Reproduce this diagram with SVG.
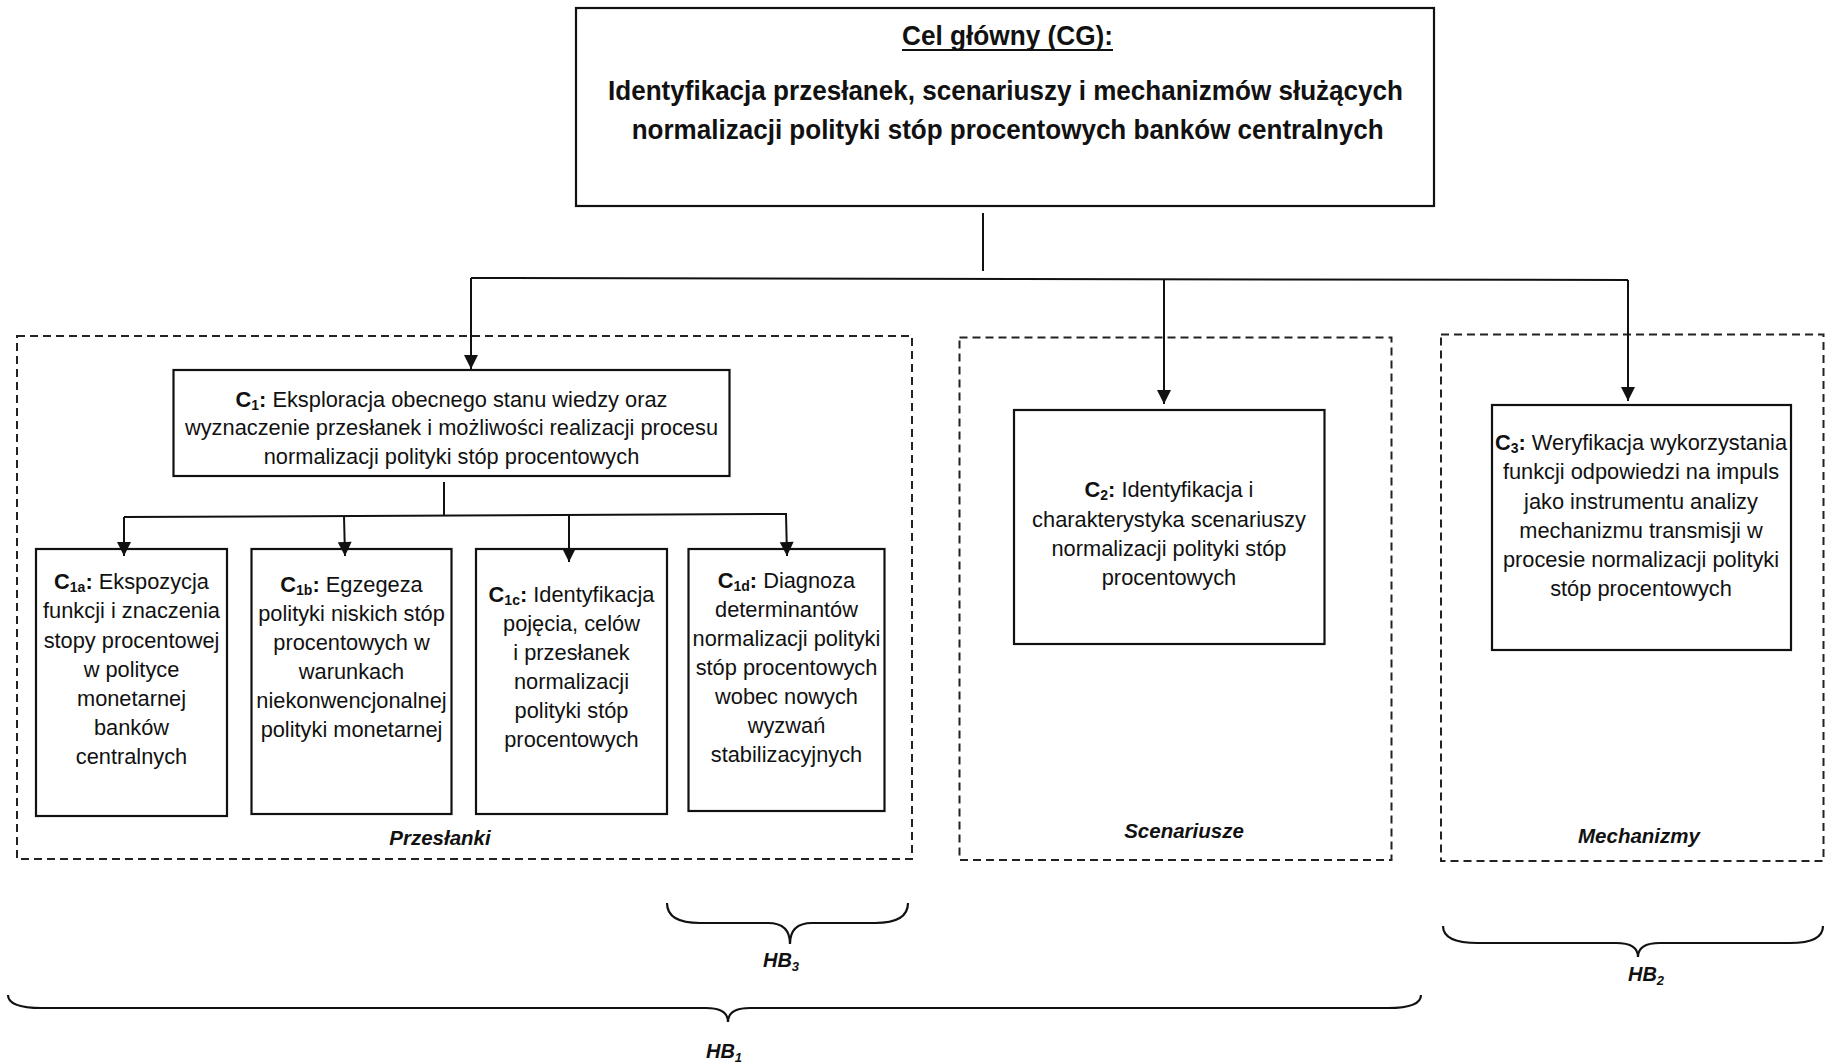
<svg xmlns="http://www.w3.org/2000/svg" width="1825" height="1063" viewBox="0 0 1825 1063">
<style>
  text { font-family: "Liberation Sans", Arial, sans-serif; fill: #111; }
  .t { font-size: 21.8px; text-anchor: middle; }
  .b { font-weight: bold; }
  .s { font-size: 14px; font-weight: bold; }
  .title { font-size: 28px; font-weight: bold; text-anchor: middle; }
  .lbl { font-size: 20.5px; font-weight: bold; font-style: italic; text-anchor: middle; }
  .hb { font-size: 20px; font-weight: bold; font-style: italic; text-anchor: middle; }
  .hbs { font-size: 13px; }
  .box { fill: #fff; stroke: #111; stroke-width: 2.2; }
  .dash { fill: none; stroke: #222; stroke-width: 2; stroke-dasharray: 8 5; }
  .ln { fill: none; stroke: #111; stroke-width: 2; }
  .br { fill: none; stroke: #111; stroke-width: 2.2; }
</style>
<defs>
  <marker id="ah" viewBox="0 0 10 10" refX="10" refY="5" markerWidth="16" markerHeight="14" markerUnits="userSpaceOnUse" orient="auto">
    <path d="M0,0 L10,5 L0,10 z" fill="#111"/>
  </marker>
</defs>
<rect width="1825" height="1063" fill="#fff"/>

<!-- group frames -->
<g id="grp-przeslanki">
  <rect class="dash" x="17" y="336" width="895" height="523"/>
  <text class="lbl" x="440" y="845">Przesłanki</text>
</g>
<g id="grp-scenariusze">
  <rect class="dash" x="959.5" y="337.5" width="432" height="522.5"/>
  <text class="lbl" x="1184" y="838">Scenariusze</text>
</g>
<g id="grp-mechanizmy">
  <rect class="dash" x="1441" y="334.5" width="382.5" height="526.5"/>
  <text class="lbl" x="1639" y="843">Mechanizmy</text>
</g>

<!-- main goal -->
<g id="cg">
  <rect class="box" x="576" y="8" width="858" height="198"/>
  <text class="title" x="1007.5" y="45" textLength="211" lengthAdjust="spacingAndGlyphs">Cel główny (CG):</text>
  <line x1="902" y1="50" x2="1113" y2="50" stroke="#111" stroke-width="2"/>
  <text class="title" x="1005.5" y="100" textLength="795" lengthAdjust="spacingAndGlyphs">Identyfikacja przesłanek, scenariuszy i mechanizmów służących</text>
  <text class="title" x="1007.7" y="139" textLength="752" lengthAdjust="spacingAndGlyphs">normalizacji polityki stóp procentowych banków centralnych</text>
</g>

<g id="c1">
  <rect class="box" x="173.5" y="370" width="556" height="106"/>
  <text class="t" x="451.5" y="406.5"><tspan class="b">C<tspan class="s" dy="3">1</tspan><tspan dy="-3">:</tspan></tspan> Eksploracja obecnego stanu wiedzy oraz</text>
  <text class="t" x="451.5" y="435">wyznaczenie przesłanek i możliwości realizacji procesu</text>
  <text class="t" x="451.5" y="463.5">normalizacji polityki stóp procentowych</text>
</g>

<g id="c1a">
  <rect class="box" x="36" y="549" width="191" height="267"/>
  <text class="t" x="131.5" y="589"><tspan class="b">C<tspan class="s" dy="3">1a</tspan><tspan dy="-3">:</tspan></tspan> Ekspozycja</text>
  <text class="t" x="131.5" y="618">funkcji i znaczenia</text>
  <text class="t" x="131.5" y="647.5">stopy procentowej</text>
  <text class="t" x="131.5" y="676.5">w polityce</text>
  <text class="t" x="131.5" y="706">monetarnej</text>
  <text class="t" x="131.5" y="735">banków</text>
  <text class="t" x="131.5" y="764">centralnych</text>
</g>

<g id="c1b">
  <rect class="box" x="251.5" y="549" width="200" height="265"/>
  <text class="t" x="351.5" y="592"><tspan class="b">C<tspan class="s" dy="3">1b</tspan><tspan dy="-3">:</tspan></tspan> Egzegeza</text>
  <text class="t" x="351.5" y="621">polityki niskich stóp</text>
  <text class="t" x="351.5" y="650">procentowych w</text>
  <text class="t" x="351.5" y="679">warunkach</text>
  <text class="t" x="351.5" y="708">niekonwencjonalnej</text>
  <text class="t" x="351.5" y="737">polityki monetarnej</text>
</g>

<g id="c1c">
  <rect class="box" x="476" y="549" width="191" height="265"/>
  <text class="t" x="571.5" y="602"><tspan class="b">C<tspan class="s" dy="3">1c</tspan><tspan dy="-3">:</tspan></tspan> Identyfikacja</text>
  <text class="t" x="571.5" y="631">pojęcia, celów</text>
  <text class="t" x="571.5" y="660">i przesłanek</text>
  <text class="t" x="571.5" y="689">normalizacji</text>
  <text class="t" x="571.5" y="718">polityki stóp</text>
  <text class="t" x="571.5" y="747">procentowych</text>
</g>

<g id="c1d">
  <rect class="box" x="688.5" y="549" width="196" height="262"/>
  <text class="t" x="786.5" y="588"><tspan class="b">C<tspan class="s" dy="3">1d</tspan><tspan dy="-3">:</tspan></tspan> Diagnoza</text>
  <text class="t" x="786.5" y="617">determinantów</text>
  <text class="t" x="786.5" y="646">normalizacji polityki</text>
  <text class="t" x="786.5" y="675">stóp procentowych</text>
  <text class="t" x="786.5" y="704">wobec nowych</text>
  <text class="t" x="786.5" y="733">wyzwań</text>
  <text class="t" x="786.5" y="762">stabilizacyjnych</text>
</g>

<g id="c2">
  <rect class="box" x="1014" y="410" width="310.5" height="234"/>
  <text class="t" x="1169" y="497"><tspan class="b">C<tspan class="s" dy="3">2</tspan><tspan dy="-3">:</tspan></tspan> Identyfikacja i</text>
  <text class="t" x="1169" y="526.5">charakterystyka scenariuszy</text>
  <text class="t" x="1169" y="556">normalizacji polityki stóp</text>
  <text class="t" x="1169" y="585">procentowych</text>
</g>

<g id="c3">
  <rect class="box" x="1492" y="405" width="299" height="245"/>
  <text class="t" x="1641" y="450"><tspan class="b">C<tspan class="s" dy="3">3</tspan><tspan dy="-3">:</tspan></tspan> Weryfikacja wykorzystania</text>
  <text class="t" x="1641" y="479">funkcji odpowiedzi na impuls</text>
  <text class="t" x="1641" y="509">jako instrumentu analizy</text>
  <text class="t" x="1641" y="538">mechanizmu transmisji w</text>
  <text class="t" x="1641" y="567">procesie normalizacji polityki</text>
  <text class="t" x="1641" y="596">stóp procentowych</text>
</g>

<!-- connectors -->
<g id="connectors">
  <line class="ln" x1="983" y1="213" x2="983" y2="271"/>
  <path class="ln" d="M471 278 L1628 280"/>
  <line class="ln" x1="471" y1="278" x2="471" y2="369" marker-end="url(#ah)"/>
  <line class="ln" x1="1164" y1="279" x2="1164" y2="404" marker-end="url(#ah)"/>
  <line class="ln" x1="1628" y1="280" x2="1628" y2="401" marker-end="url(#ah)"/>
  <line class="ln" x1="444" y1="482" x2="444" y2="515"/>
  <path class="ln" d="M124 517 L787 514"/>
  <line class="ln" x1="124" y1="517" x2="124" y2="556" marker-end="url(#ah)"/>
  <line class="ln" x1="344" y1="516" x2="345" y2="556" marker-end="url(#ah)"/>
  <line class="ln" x1="569" y1="515" x2="569" y2="562" marker-end="url(#ah)"/>
  <line class="ln" x1="786" y1="514" x2="787" y2="556" marker-end="url(#ah)"/>
</g>

<!-- braces -->
<g id="hb3">
  <path class="br" d="M667 903 Q667 923 700 923 L768 923 Q790 923 790 944 Q790 923 812 923 L875 923 Q908 923 908 903"/>
  <text class="hb" x="781" y="967">HB<tspan class="hbs" dy="4">3</tspan></text>
</g>
<g id="hb2">
  <path class="br" d="M1443 926 Q1443 943 1478 943 L1616 943 Q1638 943 1638 957 Q1638 943 1660 943 L1790 943 Q1823 943 1823 926"/>
  <text class="hb" x="1646" y="981">HB<tspan class="hbs" dy="4">2</tspan></text>
</g>
<g id="hb1">
  <path class="br" d="M8 995 Q8 1008 42 1008 L706 1008 Q728 1008 728 1022 Q728 1008 750 1008 L1388 1008 Q1421 1008 1421 995"/>
  <text class="hb" x="724" y="1058">HB<tspan class="hbs" dy="4">1</tspan></text>
</g>
</svg>
